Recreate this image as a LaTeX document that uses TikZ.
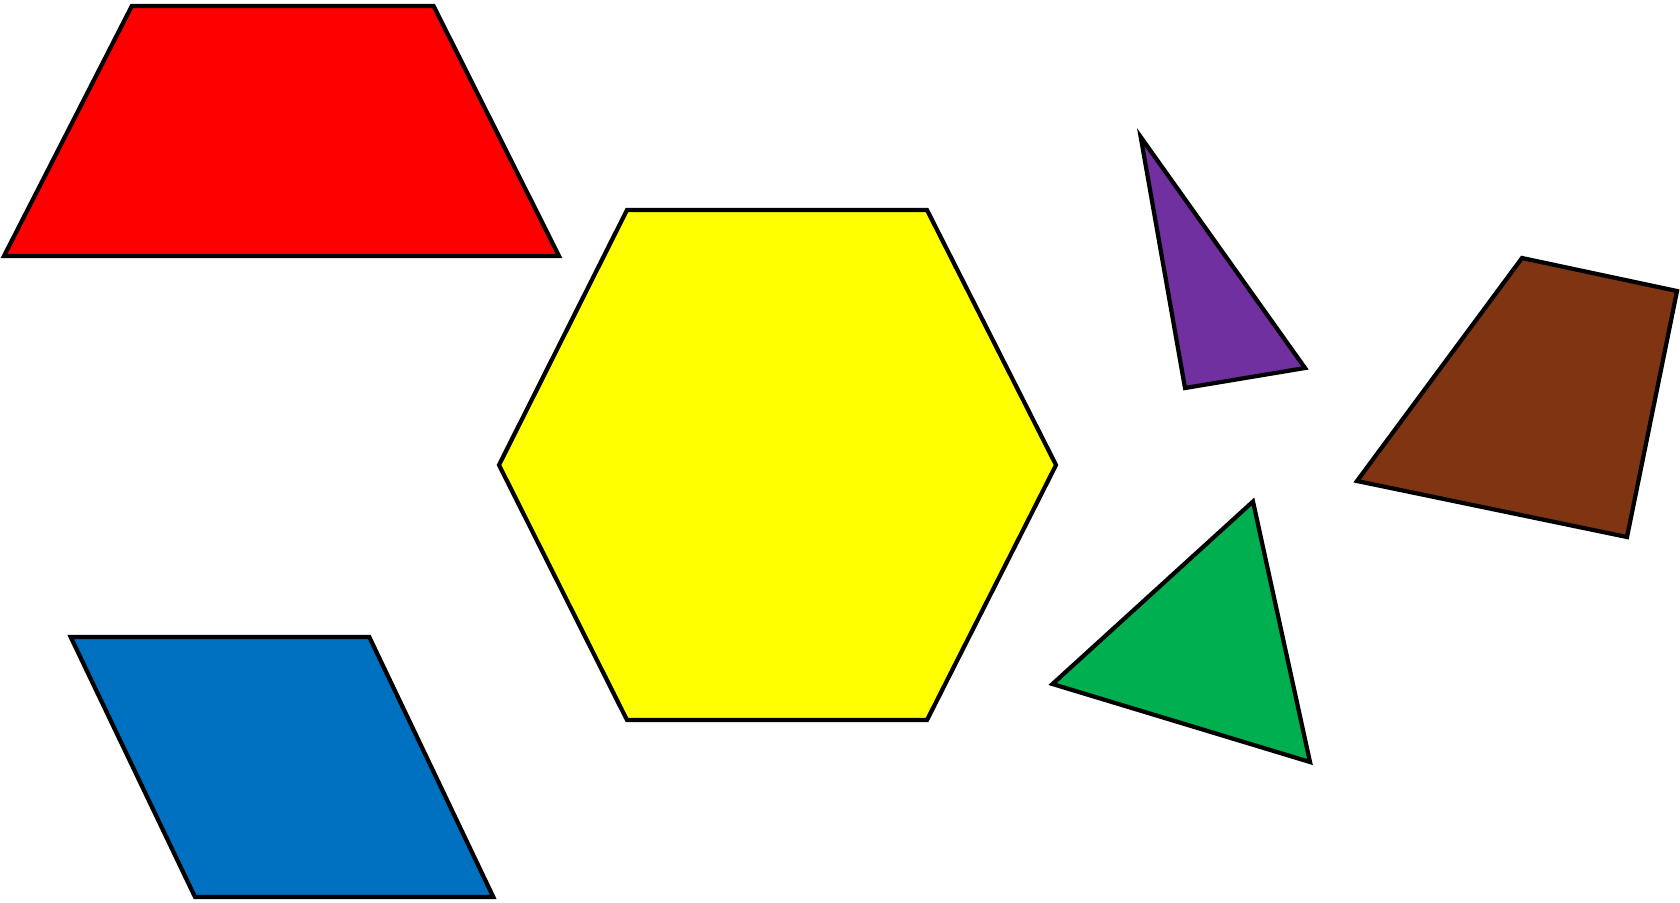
\documentclass[tikz,border=0pt]{standalone}
\usepackage{tikz}

\definecolor{tileRed}{HTML}{FF0000}
\definecolor{tileYellow}{HTML}{FFFF00}
\definecolor{tileBlue}{HTML}{0070C0}
\definecolor{tilePurple}{HTML}{7030A0}
\definecolor{tileBrown}{HTML}{7F3511}
\definecolor{tileGreen}{HTML}{00B050}

\begin{document}
\begin{tikzpicture}[x=.5pt,y=-.5pt,tile/.style={draw=black,line width=2.1pt,line join=miter}]
\path[use as bounding box] (0,0) rectangle (1680,902);
\draw[tile,fill=tileRed] (4,256)--(131.8,6)--(433.6,6)--(559,256)--cycle;
\draw[tile,fill=tileYellow] (627,210)--(927,210)--(1056,465)--(927,720)--(627,720)--(499,465)--cycle;
\draw[tile,fill=tileBlue] (70.7,637)--(369.3,637)--(493.3,897)--(195,897)--cycle;
\draw[tile,fill=tilePurple] (1140.7,137)--(1305,368)--(1185,388)--cycle;
\draw[tile,fill=tileBrown] (1522,258)--(1677,291)--(1627,537)--(1357,481)--cycle;
\draw[tile,fill=tileGreen] (1253,501.5)--(1310,762)--(1052.5,684)--cycle;
\end{tikzpicture}
\end{document}
